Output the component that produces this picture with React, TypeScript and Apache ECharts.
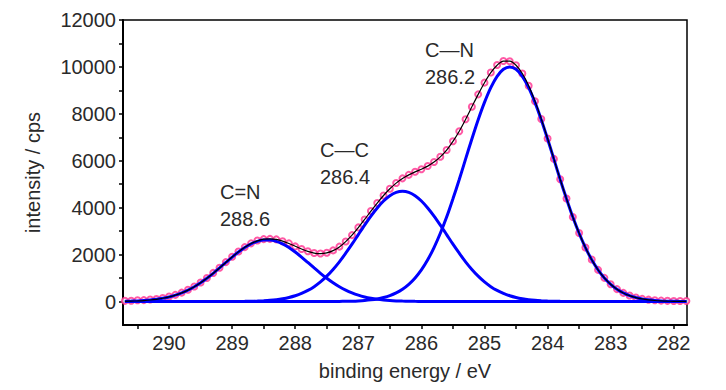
import React, { useEffect, useRef } from "react";
import * as echarts from "echarts";

// binding energies (eV) of each sample point
const energies = [
  290.7, 290.6, 290.5, 290.4, 290.3, 290.2, 290.1, 290.0, 289.9, 289.8,
  289.7, 289.6, 289.5, 289.4, 289.3, 289.2, 289.1, 289.0, 288.9, 288.8,
  288.7, 288.6, 288.5, 288.4, 288.3, 288.2, 288.1, 288.0, 287.9, 287.8,
  287.7, 287.6, 287.5, 287.4, 287.3, 287.2, 287.1, 287.0, 286.9, 286.8,
  286.7, 286.6, 286.5, 286.4, 286.3, 286.2, 286.1, 286.0, 285.9, 285.8,
  285.7, 285.6, 285.5, 285.4, 285.3, 285.2, 285.1, 285.0, 284.9, 284.8,
  284.7, 284.6, 284.5, 284.4, 284.3, 284.2, 284.1, 284.0, 283.9, 283.8,
  283.7, 283.6, 283.5, 283.4, 283.3, 283.2, 283.1, 283.0, 282.9, 282.8,
  282.7, 282.6, 282.5, 282.4, 282.3, 282.2, 282.1, 282.0, 281.9, 281.8,
];

// measured intensity (cps)
const measured = [
  30, 35, 52, 60, 88, 110, 150, 215, 285, 380,
  500, 640, 815, 1000, 1220, 1440, 1680, 1910, 2130, 2320,
  2480, 2600, 2660, 2670, 2650, 2570, 2480, 2350, 2240, 2140,
  2070, 2050, 2080, 2180, 2340, 2560, 2830, 3160, 3500, 3860,
  4200, 4520, 4810, 5050, 5250, 5400, 5530, 5640, 5780, 5950,
  6170, 6460, 6830, 7260, 7770, 8300, 8830, 9330, 9760, 10080,
  10250, 10240, 10070, 9720, 9200, 8540, 7780, 6950, 6080, 5210,
  4390, 3600, 2920, 2300, 1790, 1350, 1010, 740, 530, 370,
  255, 175, 115, 80, 55, 40, 30, 25, 20, 20,
];

// fitted component C=N (288.6)
const peakCeqN = [
  11, 18, 28, 43, 65, 96, 139, 196, 271, 367,
  486, 629, 799, 991, 1204, 1431, 1665, 1896, 2112, 2304,
  2459, 2567, 2623, 2623, 2567, 2459, 2304, 2112, 1896, 1665,
  1431, 1204, 991, 799, 629, 486, 367, 271, 196, 139,
  96, 65, 43, 28, 18, 11, 7, 4, 2, 1,
  0, 0, 0, 0, 0, 0, 0, 0, 0, 0,
  0, 0, 0, 0, 0, 0, 0, 0, 0, 0,
  0, 0, 0, 0, 0, 0, 0, 0, 0, 0,
  0, 0, 0, 0, 0, 0, 0, 0, 0, 0,
];

// fitted component C—C (286.4)
const peakCC = [
  0, 0, 0, 0, 0, 0, 0, 0, 0, 0,
  0, 0, 0, 0, 0, 0, 2, 3, 5, 8,
  13, 21, 34, 52, 79, 118, 172, 246, 345, 473,
  635, 837, 1081, 1368, 1692, 2059, 2444, 2853, 3257, 3643,
  3990, 4286, 4512, 4653, 4700, 4653, 4512, 4286, 3990, 3643,
  3257, 2853, 2444, 2059, 1692, 1368, 1081, 837, 635, 473,
  345, 246, 172, 118, 79, 52, 34, 21, 13, 8,
  5, 3, 2, 0, 0, 0, 0, 0, 0, 0,
  0, 0, 0, 0, 0, 0, 0, 0, 0, 0,
];

// fitted component C—N (286.2)
const peakCN = [
  0, 0, 0, 0, 0, 0, 0, 0, 0, 0,
  0, 0, 0, 0, 0, 0, 0, 0, 0, 0,
  0, 0, 0, 0, 0, 0, 0, 0, 0, 0,
  0, 0, 0, 3, 6, 10, 17, 28, 45, 72,
  111, 169, 251, 367, 524, 734, 1007, 1350, 1780, 2300,
  2910, 3600, 4380, 5200, 6070, 6930, 7750, 8490, 9120, 9600,
  9900, 10000, 9900, 9600, 9120, 8490, 7750, 6930, 6070, 5200,
  4380, 3600, 2910, 2300, 1780, 1350, 1007, 734, 524, 367,
  251, 169, 111, 72, 45, 28, 17, 10, 6, 3,
];

const xTickLabels = [282, 283, 284, 285, 286, 287, 288, 289, 290];
const xTicks = [282, 282.5, 283, 283.5, 284, 284.5, 285, 285.5, 286, 286.5, 287, 287.5, 288, 288.5, 289, 289.5, 290, 290.5];
const yTickLabels = [0, 2000, 4000, 6000, 8000, 10000, 12000];
const yTicks = [0, 1000, 2000, 3000, 4000, 5000, 6000, 7000, 8000, 9000, 10000, 11000, 12000];

const annotations = [
  { text: "C—N\n286.2", x: 425, y: 36 },
  { text: "C—C\n286.4", x: 320, y: 136 },
  { text: "C=N\n288.6", x: 220, y: 178 },
];

const FONT = "'Liberation Sans', Arial, sans-serif";
const TEXT_COLOR = "#2a2a2a";

export default function App() {
  const ref = useRef<HTMLDivElement>(null);

  useEffect(() => {
    if (!ref.current) return;
    const chart = echarts.init(ref.current, undefined, { renderer: "svg" });
    const pair = (arr: number[]) => energies.map((e, i) => [e, arr[i]]);
    const envelope = energies.map((_, i) => peakCeqN[i] + peakCC[i] + peakCN[i]);
    const blueLine = (name: string, arr: number[]) => ({
      name,
      type: "line",
      data: pair(arr),
      showSymbol: false,
      symbol: "none",
      smooth: 0.3,
      lineStyle: { color: "#0000ff", width: 3 },
      z: 3,
    });

    chart.setOption({
      animation: false,
      grid: {
        left: 123,
        right: 39,
        top: 20,
        bottom: 65,
        show: true,
        borderColor: "#000",
        borderWidth: 1.5,
        backgroundColor: "transparent",
      },
      xAxis: {
        type: "value",
        inverse: true,
        min: 281.79,
        max: 290.73,
        name: "binding energy / eV",
        nameLocation: "middle",
        nameGap: 36,
        nameTextStyle: { fontFamily: FONT, fontSize: 20, color: TEXT_COLOR },
        axisLine: { show: true, onZero: false, lineStyle: { color: "#000", width: 2 } },
        axisTick: { show: true, customValues: xTicks, length: 4, lineStyle: { color: "#000", width: 1.5 } },
        axisLabel: {
          customValues: xTickLabels,
          margin: 8,
          fontFamily: FONT,
          fontSize: 20,
          color: TEXT_COLOR,
          formatter: (v: number) => String(v),
        },
        splitLine: { show: false },
      },
      yAxis: {
        type: "value",
        min: -1000,
        max: 12000,
        name: "intensity / cps",
        nameLocation: "middle",
        nameGap: 80,
        nameTextStyle: { fontFamily: FONT, fontSize: 20, color: TEXT_COLOR },
        axisLine: { show: true, onZero: false, lineStyle: { color: "#000", width: 2 } },
        axisTick: { show: true, customValues: yTicks, length: 4, lineStyle: { color: "#000", width: 1.5 } },
        axisLabel: {
          customValues: yTickLabels,
          margin: 7,
          fontFamily: FONT,
          fontSize: 20,
          color: TEXT_COLOR,
          formatter: (v: number) => String(v),
        },
        splitLine: { show: false },
      },
      series: [
        {
          name: "measured",
          type: "scatter",
          data: pair(measured),
          symbol: "emptyCircle",
          symbolSize: 6,
          itemStyle: { color: "#ff2f8f", borderWidth: 1 },
          z: 2,
        },
        blueLine("C=N", peakCeqN),
        blueLine("C—C", peakCC),
        blueLine("C—N", peakCN),
        {
          name: "fit",
          type: "line",
          data: pair(envelope),
          showSymbol: false,
          symbol: "none",
          smooth: 0.3,
          lineStyle: { color: "#000", width: 1.2 },
          z: 4,
        },
      ],
      graphic: annotations.map((a) => ({
        type: "text",
        x: a.x,
        y: a.y,
        style: {
          text: a.text,
          fontFamily: FONT,
          fontSize: 20,
          lineHeight: 27,
          fill: TEXT_COLOR,
        },
      })),
    });
    return () => chart.dispose();
  }, []);

  return <div ref={ref} style={{ width: 726, height: 390, position: "absolute", left: 0, top: 0 }} />;
}
